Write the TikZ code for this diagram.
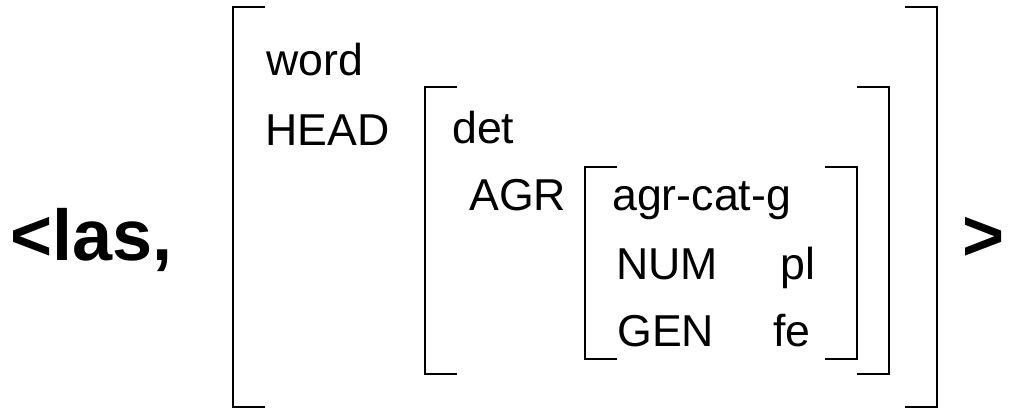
\documentclass[tikz,border=0pt]{standalone}
\usepackage{fontspec}
\setmainfont{Liberation Sans}

\begin{document}
\begin{tikzpicture}[x=0.75pt,y=-0.75pt,
  feat/.style={anchor=base west,inner sep=0pt,font=\fontsize{33.5}{40}\selectfont},
  big/.style={anchor=base west,inner sep=0pt,font=\fontsize{54}{64}\selectfont\bfseries},
  brack/.style={line width=1.5pt}]
  \useasboundingbox (0,0) rectangle (1009,408);
  \node[big] (open) at (10,260) {<las,};
  \node[big] (close) at (962,260) {>};
  % outer matrix
  \draw[brack] (265,7) -- (233,7) -- (233,407) -- (265,407);
  \draw[brack] (905,7) -- (937,7) -- (937,407) -- (905,407);
  \node[feat] (word) at (266,75) {word};
  \node[feat] (head) at (265,145) {HEAD};
  % head value
  \draw[brack] (457,87) -- (425,87) -- (425,374) -- (457,374);
  \draw[brack] (857,87) -- (889,87) -- (889,374) -- (857,374);
  \node[feat] (det) at (452,143) {det};
  \node[feat] (agr) at (469,210) {AGR};
  % agr value
  \draw[brack] (617,167) -- (585,167) -- (585,359) -- (617,359);
  \draw[brack] (825,167) -- (857,167) -- (857,359) -- (825,359);
  \node[feat] (agrcat) at (612,210) {agr-cat-g};
  \node[feat] (num) at (616,279) {NUM};
  \node[feat] (pl) at (780,279) {pl};
  \node[feat] (gen) at (617,346) {GEN};
  \node[feat] (fe) at (773,346) {fe};
\end{tikzpicture}
\end{document}
